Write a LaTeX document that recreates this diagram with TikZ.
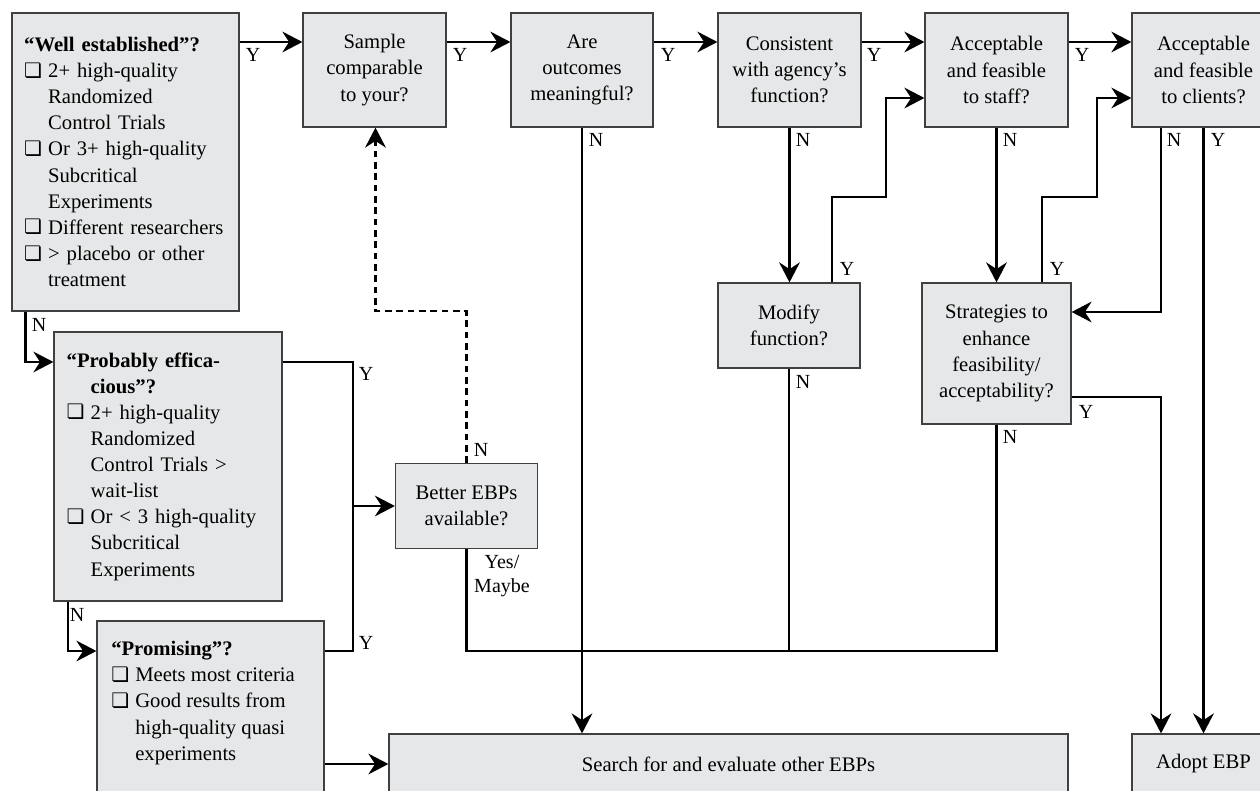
\documentclass[tikz,border=0pt]{standalone}
\usepackage{fontspec}
\setmainfont{Liberation Serif}
\newfontfamily\dejavu{DejaVu Sans}
\usetikzlibrary{arrows.meta}
\definecolor{boxfill}{RGB}{230,231,232}
\newcommand\cb{\makebox[18pt][l]{\raisebox{0.3pt}{\dejavu\fontsize{15}{15}\selectfont ❏}}}
\newcommand\ind{\hspace*{18pt}}
\begin{document}
\begin{tikzpicture}[x=0.75pt,y=-0.75pt,
  box/.style={draw=black!75, line width=0.9pt, fill=boxfill, inner sep=0pt,
    font=\fontsize{15.5}{19.6}\selectfont, align=center},
  wh/.style 2 args={minimum width={#1*0.75pt}, minimum height={#2*0.75pt}},
  txt/.style={inner sep=0pt, font=\fontsize{15.5}{19.6}\selectfont, align=left},
  conn/.style={line width=1.8pt, draw=black},
  arr/.style={conn, -{Stealth[length=15pt,width=15.5pt,inset=5pt]}},
  dsh/.style={dash pattern=on 5pt off 3.5pt},
  lab/.style={inner sep=0pt, font=\fontsize{15}{18}\selectfont, align=center}]
\useasboundingbox (0,0) rectangle (1260,791);

% boxes
\node[box, wh={227}{298}, align=left, text width=152pt] (we) at (125.5,162) {%
\textbf{“Well established”?}\\
\cb 2+ high-quality\\
\ind Randomized\\
\ind Control Trials\\
\cb Or 3+ high-quality\\
\ind Subcritical\\
\ind Experiments\\
\cb Different researchers\\
\cb > placebo or other\\
\ind treatment};
\node[box, wh={228}{269}, align=left, text width=152pt] (pe) at (168,466.5) {%
\textbf{“Probably effica-}\\
\ind\textbf{cious”?}\\
\cb 2+ high-quality\\
\ind Randomized\\
\ind Control Trials >\\
\ind wait-list\\
\cb Or < 3 high-quality\\
\ind Subcritical\\
\ind Experiments};
\node[box, wh={227}{180}] (pr) at (210.5,711) {};
\node[txt, anchor=north west] (prt) at (111,641) {%
\textbf{“Promising”?}\\
\cb Meets most criteria\\
\cb Good results from\\
\ind high-quality quasi\\
\ind experiments};

\node[box, wh={143}{114}] (sa) at (374.5,70) {Sample\\comparable\\to your?};
\node[box, wh={142}{114}] (ou) at (582,70) {Are\\outcomes\\meaningful?};
\node[box, wh={143}{114}] (co) at (789.5,70) {Consistent\\with agency’s\\function?};
\node[box, wh={143}{114}] (st) at (996.5,70) {Acceptable\\and feasible\\to staff?};
\node[box, wh={143}{114}] (cl) at (1203.5,70) {Acceptable\\and feasible\\to clients?};
\node[box, wh={142}{85}] (mo) at (789,325.5) {Modify\\function?};
\node[box, wh={149}{141}] (sg) at (996.5,353.5) {Strategies to\\enhance\\feasibility/\\acceptability?};
\node[box, wh={142}{85}] (be) at (466.5,506) {Better EBPs\\available?};
\node[box, wh={679}{60}] (se) at (728.5,764) {Search for and evaluate other EBPs};
\node[box, wh={143}{60}] (ad) at (1203.5,764) {Adopt EBP};

% helper coordinates
\coordinate (r1) at (0,42);
\coordinate (r2) at (0,98);
\coordinate (c1) at (25.5,362);
\coordinate (c2) at (353,362);
\coordinate (c3) at (353,651);
\coordinate (c4) at (68,651);
\coordinate (d1) at (375.5,311);
\coordinate (h) at (0,651);
\coordinate (m1) at (832,197);
\coordinate (m2) at (886,197);
\coordinate (s1) at (1042,197);
\coordinate (s2) at (1097,197);
\coordinate (k1) at (1161,312);
\coordinate (k3) at (1161,397);

% connectors
\draw[arr] (we.east |- r1) -- (sa.west |- r1);
\draw[arr] (sa.east |- r1) -- (ou.west |- r1);
\draw[arr] (ou.east |- r1) -- (co.west |- r1);
\draw[arr] (co.east |- r1) -- (st.west |- r1);
\draw[arr] (st.east |- r1) -- (cl.west |- r1);

\draw[arr] (we.south -| c1) -- (c1) -- (pe.west |- c1);
\draw[conn] (pe.east |- c2) -- (c2) -- (c3) -- (pr.east |- c3);
\draw[arr] (c2 |- be.west) -- (be.west);
\draw[arr] (pe.south -| c4) -- (c4) -- (pr.west |- c4);
\draw[arr] (pr.east |- se.west) -- (se.west);

\draw[arr, dsh] (be.north) -- (be.north |- d1) -- (d1) -- (sa.south -| d1);

\draw[conn] (be.south) -- (be.south |- h) -- (sg.south |- h) -- (sg.south);
\draw[conn] (mo.south) -- (mo.south |- h);

\draw[arr] (ou.south) -- (ou.south |- se.north);
\draw[arr] (co.south) -- (co.south |- mo.north);
\draw[arr] (mo.north -| m1) -- (m1) -- (m2) -- (m2 |- r2) -- (st.west |- r2);
\draw[arr] (st.south) -- (st.south |- sg.north);
\draw[arr] (sg.north -| s1) -- (s1) -- (s2) -- (s2 |- r2) -- (cl.west |- r2);
\draw[arr] (cl.south -| k1) -- (k1) -- (sg.east |- k1);
\draw[arr] (cl.south) -- (ad.north);
\draw[arr] (sg.east |- k3) -- (k3) -- (ad.north -| k3);

% labels
\node[lab] (y1) at (253,55) {Y};
\node[lab] (y2) at (460,55) {Y};
\node[lab] (y3) at (668,55) {Y};
\node[lab] (y4) at (874,55) {Y};
\node[lab] (y5) at (1082,55) {Y};
\node[lab] (n1) at (39,325) {N};
\node[lab] (y6) at (366,374) {Y};
\node[lab] (y7) at (366,643) {Y};
\node[lab] (n2) at (77,615) {N};
\node[lab] (n3) at (481,450) {N};
\node[lab] (ym) at (502,576) {Yes/\\Maybe};
\node[lab] (n4) at (596,140) {N};
\node[lab] (n5) at (803,140) {N};
\node[lab] (n6) at (1010,140) {N};
\node[lab] (n7) at (1174,140) {N};
\node[lab] (y8) at (1218,140) {Y};
\node[lab] (y9) at (847,269) {Y};
\node[lab] (y10) at (1057,269) {Y};
\node[lab] (n8) at (803,382) {N};
\node[lab] (n9) at (1010,437) {N};
\node[lab] (y11) at (1086,412) {Y};
\end{tikzpicture}
\end{document}
